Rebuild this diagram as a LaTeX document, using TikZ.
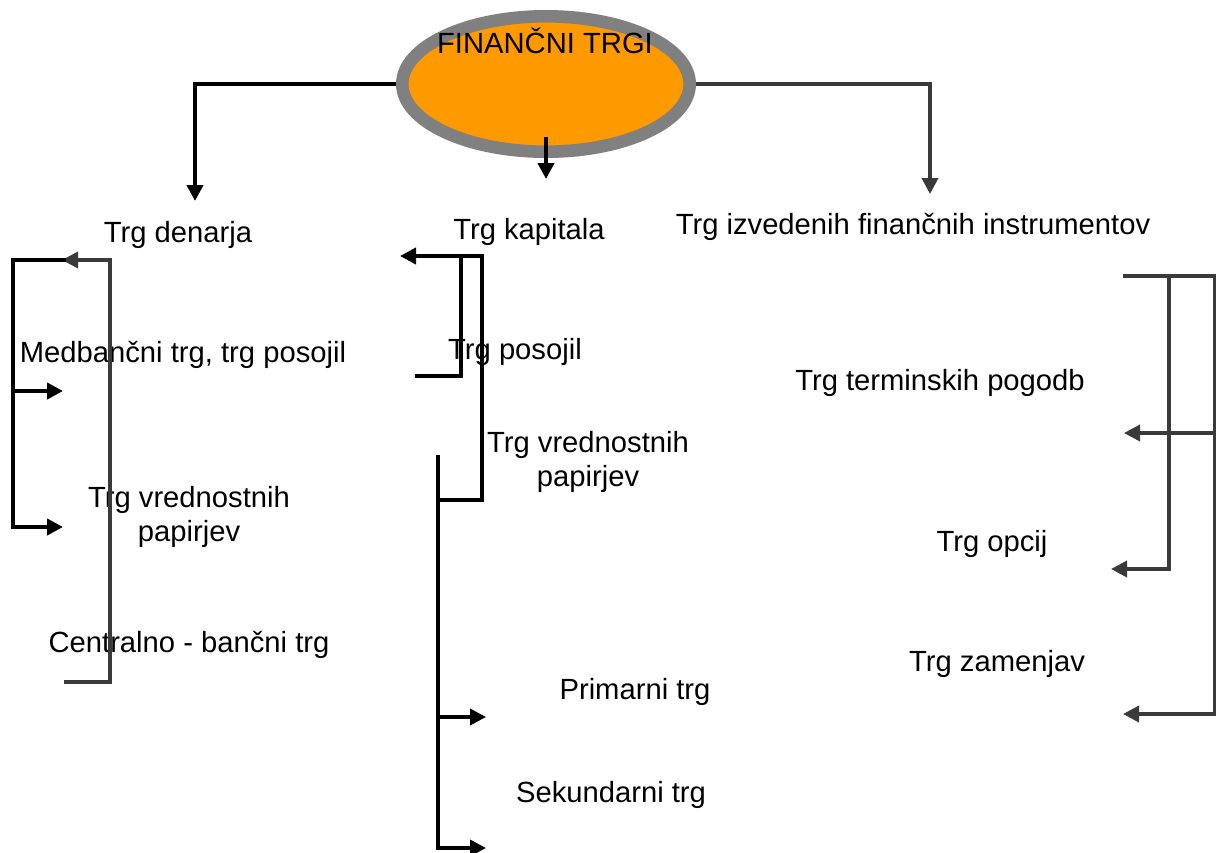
\documentclass[tikz,border=0pt]{standalone}
\usepackage{fontspec}
\setmainfont{Liberation Sans}
\usetikzlibrary{arrows.meta,shapes.geometric}
\definecolor{orng}{HTML}{FF9900}
\definecolor{ringgray}{HTML}{808080}
\definecolor{dgray}{HTML}{3A3A3A}
\begin{document}
\begin{tikzpicture}[x=1pt,y=-1pt,
  lbl/.style={inner sep=0pt, font=\fontsize{29.2}{34}\selectfont, anchor=base},
  lbltwo/.style={inner sep=0pt, font=\fontsize{29.2}{34}\selectfont, align=center},
  tipk/.style={-{Triangle[length=16pt,width=16pt]}},
  blk/.style={draw=black, line width=4pt, line join=miter, tipk},
  blkplain/.style={draw=black, line width=4pt, line join=miter},
  gry/.style={draw=dgray, line width=3.6pt, line join=miter, tipk},
  gryplain/.style={draw=dgray, line width=3.6pt, line join=miter}
]
\useasboundingbox (0,0) rectangle (1216,852);

% central ellipse
\node[ellipse, draw=ringgray, fill=orng, line width=12.6pt,
      minimum width=287.4pt, minimum height=135.4pt, inner sep=0pt] (fin) at (546,84) {};
\node[lbl] (fint) at (545,53) {FINANČNI TRGI};

% level 1 labels
\node[lbl] (den) at (178,242) {Trg denarja};
\node[lbl] (kap) at (529,239) {Trg kapitala};
\node[lbl] (izv) at (913,234) {Trg izvedenih finančnih instrumentov};

% money market items
\node[lbl] (med) at (183,362) {Medbančni trg, trg posojil};
\node[lbltwo] (vpl) at (189,517) {Trg vrednostnih\\papirjev};
\node[lbl] (cen) at (189,652) {Centralno - bančni trg};

% capital market items
\node[lbl] (pos) at (515,359) {Trg posojil};
\node[lbltwo] (vpm) at (588,462) {Trg vrednostnih\\papirjev};
\node[lbl] (pri) at (635,699) {Primarni trg};
\node[lbl] (sek) at (611,802) {Sekundarni trg};

% derivatives items
\node[lbl] (ter) at (940,390) {Trg terminskih pogodb};
\node[lbl] (opc) at (992,551) {Trg opcij};
\node[lbl] (zam) at (997,671) {Trg zamenjav};

% free-end coordinates
\coordinate (tden) at (195,201);
\coordinate (tkap0) at (546,137);
\coordinate (tkap) at (546,179);
\coordinate (tizv) at (930,194);

\coordinate (lmedT) at (63,391);
\coordinate (lvpT) at (63,527);
\coordinate (lbT) at (66,260);
\coordinate (lgS) at (64,682);
\coordinate (lgT) at (62,260);

\coordinate (mposS) at (415,376);
\coordinate (mtop) at (461,256);
\coordinate (mvpS) at (438,500);
\coordinate (mkT) at (400,256);
\coordinate (mvS) at (438,455);
\coordinate (mpriT) at (486,717);
\coordinate (msekT) at (486,848);

\coordinate (rS) at (1123,276);
\coordinate (rterT) at (1124,433);
\coordinate (ropcT) at (1111,569);
\coordinate (rzamT) at (1123,714);

% top connectors
\draw[blk] (fin.west) -| (tden);
\draw[gry] (fin.east) -| (tizv);
\draw[blk] (tkap0) -- (tkap);

% money market brackets
\draw[gry] (lgS) -- (110,682) -- (110,260) -- (lgT);
\draw[blk] (lbT) -- (13,260) -- (13,527) -- (lvpT);
\draw[blk] (13,391) -- (lmedT);

% capital market brackets
\draw[blkplain] (mposS) -- (461,376) -- (mtop);
\draw[blk] (mvpS) -- (482,500) -- (482,256) -- (mkT);
\draw[blk, line width=3.6pt] (mvS) -- (438,848) -- (msekT);
\draw[blk, line width=3.6pt] (438,717) -- (mpriT);

% derivatives brackets
\draw[gry] (rS) -- (1215,276) -- (1215,714) -- (rzamT);
\draw[gry] (1215,433) -- (rterT);
\draw[gry] (1169,276) -- (1169,569) -- (ropcT);
\end{tikzpicture}
\end{document}
